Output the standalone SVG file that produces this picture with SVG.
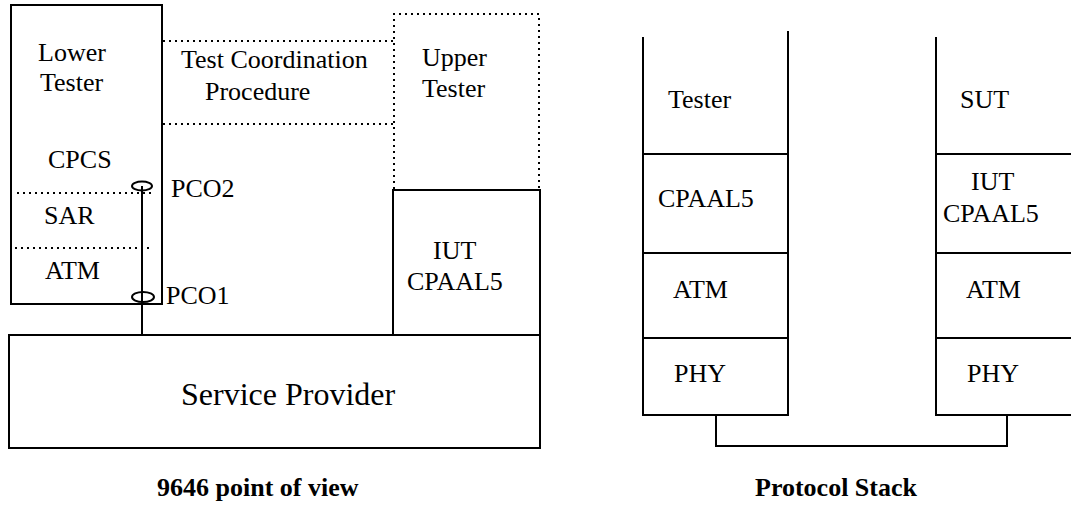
<svg xmlns="http://www.w3.org/2000/svg" width="1071" height="506" viewBox="0 0 1071 506">
<style>
  .s{fill:none;stroke:#000;stroke-width:2}
  .d{fill:none;stroke:#000;stroke-width:2;stroke-dasharray:2 4}
  .t{font-family:"Liberation Serif","Times New Roman",serif;font-size:26px;fill:#000}
  .sp{font-size:32px}
  .b{font-family:"Liberation Serif","Times New Roman",serif;font-size:26px;font-weight:bold;fill:#000}
</style>
<rect width="1071" height="506" fill="#fff"/>

<g id="lower-tester">
  <rect class="s" x="11" y="5" width="151" height="299"/>
  <line class="d" x1="17" y1="193" x2="152" y2="193"/>
  <line class="d" x1="15" y1="248" x2="150" y2="248"/>
  <text class="t" x="38" y="61">Lower</text>
  <text class="t" x="40" y="91">Tester</text>
  <text class="t" x="48" y="168">CPCS</text>
  <text class="t" x="44" y="224">SAR</text>
  <text class="t" x="45" y="279">ATM</text>
</g>

<g id="test-coordination">
  <line class="d" x1="163" y1="41" x2="393" y2="41"/>
  <line class="d" x1="163" y1="124" x2="393" y2="124"/>
  <text class="t" x="181" y="68">Test Coordination</text>
  <text class="t" x="205" y="100">Procedure</text>
</g>

<g id="upper-tester">
  <path class="d" d="M394 189 V14 H539 V189"/>
  <text class="t" x="422" y="66">Upper</text>
  <text class="t" x="422" y="97">Tester</text>
</g>

<g id="iut">
  <rect class="s" x="393" y="190" width="147" height="145"/>
  <text class="t" x="433" y="259">IUT</text>
  <text class="t" x="407" y="290">CPAAL5</text>
</g>

<g id="service-provider">
  <rect class="s" x="9" y="335" width="531" height="113"/>
  <text class="t sp" x="181" y="405">Service Provider</text>
</g>

<g id="pco2">
  <ellipse class="s" cx="142" cy="186" rx="10" ry="4.5"/>
  <text class="t" x="171" y="197">PCO2</text>
</g>
<g id="pco1">
  <ellipse class="s" cx="143" cy="297" rx="11" ry="5"/>
  <text class="t" x="166" y="304">PCO1</text>
</g>

<g id="stack-tester">
  <line class="s" x1="643" y1="37" x2="643" y2="416"/>
  <line class="s" x1="788" y1="31" x2="788" y2="416"/>
  <line class="s" x1="643" y1="154" x2="788" y2="154"/>
  <line class="s" x1="643" y1="253" x2="788" y2="253"/>
  <line class="s" x1="643" y1="338" x2="788" y2="338"/>
  <line class="s" x1="642" y1="415" x2="789" y2="415"/>
  <text class="t" x="668" y="108">Tester</text>
  <text class="t" x="658" y="207">CPAAL5</text>
  <text class="t" x="673" y="298">ATM</text>
  <text class="t" x="674" y="382">PHY</text>
</g>

<g id="stack-sut">
  <line class="s" x1="936" y1="37" x2="936" y2="416"/>
  <line class="s" x1="936" y1="154" x2="1071" y2="154"/>
  <line class="s" x1="936" y1="253" x2="1071" y2="253"/>
  <line class="s" x1="936" y1="338" x2="1071" y2="338"/>
  <line class="s" x1="935" y1="415" x2="1071" y2="415"/>
  <text class="t" x="960" y="108">SUT</text>
  <text class="t" x="971" y="190">IUT</text>
  <text class="t" x="943" y="222">CPAAL5</text>
  <text class="t" x="966" y="298">ATM</text>
  <text class="t" x="967" y="382">PHY</text>
</g>

<g id="connectors">
  <line class="s" x1="142" y1="186" x2="142" y2="335"/>
  <path class="s" d="M716 415 V446 H1007 V415"/>
</g>

<g id="captions">
  <text class="b" x="157" y="496">9646 point of view</text>
  <text class="b" x="755" y="496">Protocol Stack</text>
</g>
</svg>
